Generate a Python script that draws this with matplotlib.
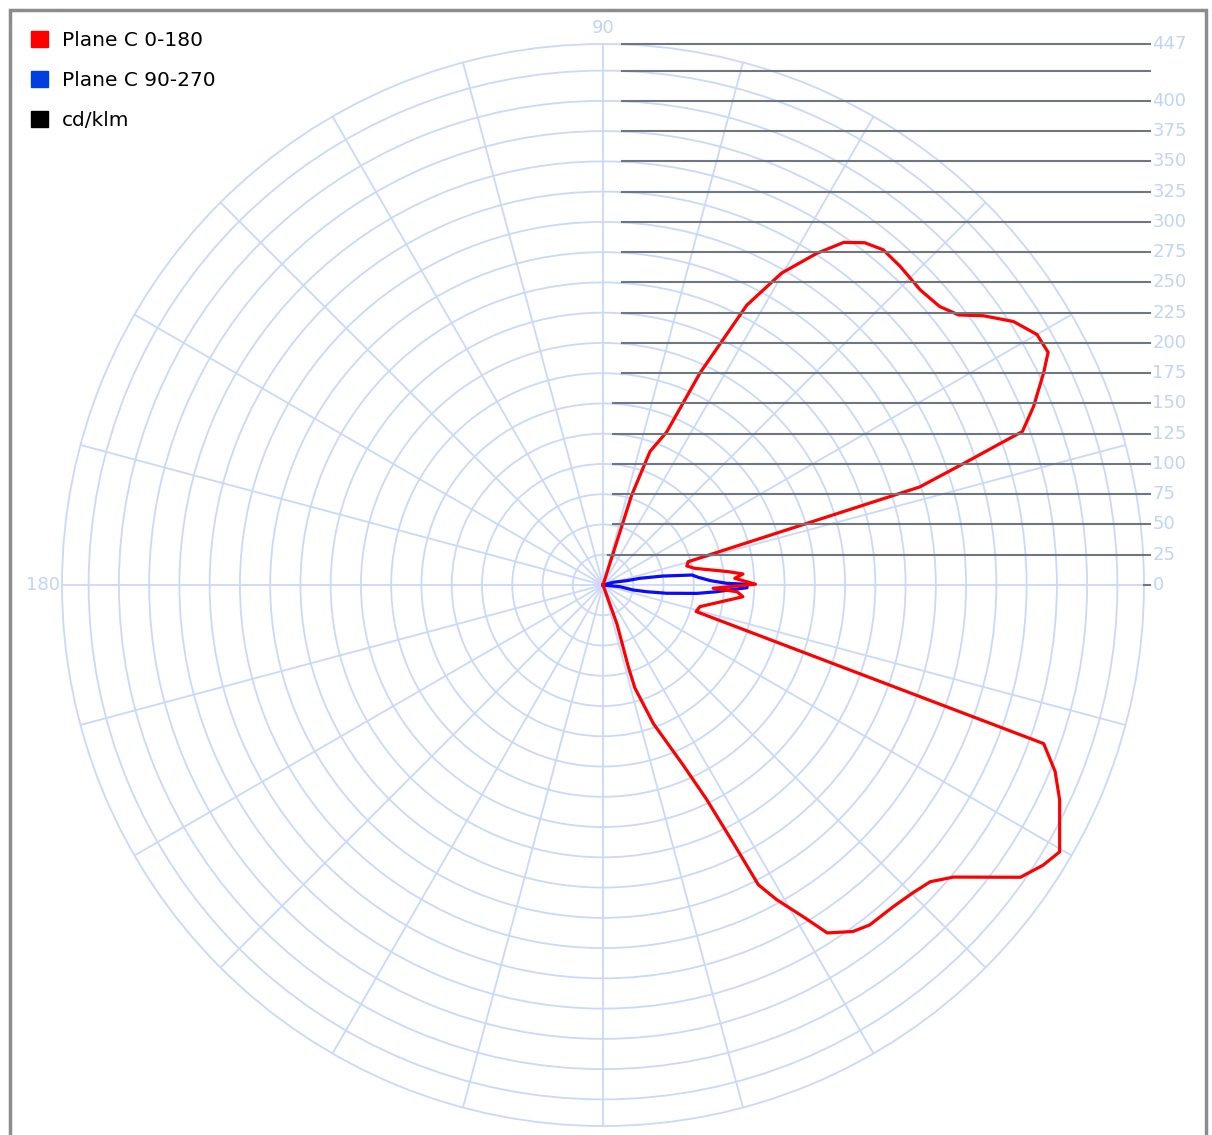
'''Polar photometric plot: cd/klm for two C planes'''
import matplotlib
matplotlib.use('Agg')
import matplotlib.pyplot as plt
import numpy as np
from matplotlib.patches import Patch, Rectangle

# Plane C 0-180 (degrees, cd/klm)
c0_angle = [73, 72.3, 70.6, 67.4, 65.4, 62.8, 60.2, 57.2, 54.9, 52.6, 50.1, 47.0,
            42.9, 39.6, 37.2, 35.3, 32.7, 30.0, 27.6, 25.7, 22.5, 20.1, 19.6, 18.7,
            17.2, 15.3, 12.8, 10.3, 6.1, 4.5, 2.9, 0.3, -1.7, -2.9, -4.8, -12.6,
            -15.9, -19.8, -22.4, -25.2, -30.3, -32.5, -35.0, -39.8, -42.2, -44.7,
            -47.9, -51.9, -54.2, -57.2, -58.9, -61.1, -62.6, -63.2, -64.2, -66.0,
            -70.0, -72.8, -72.8, -70.3, -70]
c0_value = [0, 78, 117, 137, 193, 260, 297, 326, 346, 356, 361, 360,
            358, 361, 369, 385, 403, 414, 415, 404, 385, 369, 348, 317,
            274, 73, 71, 77, 104, 116, 109, 126, 91, 111, 116, 82,
            80, 387, 404, 417, 437, 431, 421, 377, 365, 361,
            358, 357, 353, 342, 320, 297, 279, 239, 197, 163,
            122, 89, 71, 34, 0]

# Plane C 90-270
c90_angle = [15, 14.7, 10.3, 10.3, 8.5, 6.4, 4.6, 2.3, 0.8, 0.3, -1.1, -1.9,
             -3.4, -5.1, -7.4, -8.7, -9.4, -5.7, -5]
c90_value = [0, 9, 20, 31, 50, 74, 79, 89, 102, 119, 119, 108,
             94, 78, 53, 37, 25, 14, 0]

RMAX = 447
scale_levels = [25, 50, 75, 100, 125, 150, 175, 200, 225, 250, 275, 300, 325,
                350, 375, 400, 425, 447]
scale_labels = ['25', '50', '75', '100', '125', '150', '175', '200', '225', '250',
                '275', '300', '325', '350', '375', '400', '', '447']
legend_labels = ['Plane C 0-180', 'Plane C 90-270', 'cd/klm']

GRID = '#c9d8fb'
LABEL = '#c2d3f7'

fig = plt.figure(figsize=(12.12, 11.35), dpi=100)
pos = [62 / 1212, 9 / 1135, 1082 / 1212, 1082 / 1135]

ax = fig.add_axes(pos, projection='polar')
ax.set_rlim(0, RMAX)
ax.set_rticks(np.arange(25, RMAX, 25))
ax.set_yticklabels([])
ax.set_thetagrids(np.arange(0, 360, 15), [''] * 24)
ax.grid(True, color=GRID, lw=1.3)
ax.spines['polar'].set_color(GRID)
ax.spines['polar'].set_linewidth(1.3)

ax.plot(np.radians(c0_angle), c0_value, color='#ff0000', lw=2.3, zorder=5)
ax.plot(np.radians(c90_angle), c90_value, color='#0a0aff', lw=2.3, zorder=4)

# cartesian overlay for the scale lines and labels
ov = fig.add_axes(pos)
ov.set_xlim(-RMAX, RMAX)
ov.set_ylim(-RMAX, RMAX)
ov.set_aspect('equal')
ov.axis('off')
ov.patch.set_alpha(0)

for lev, lab in zip(scale_levels, scale_labels):
    x0 = 16 if lev >= 175 else (8 if lev > 25 else 4)
    ov.plot([x0, 452], [lev, lev], color='#6f7680', lw=1.5, clip_on=False, zorder=2)
    ov.text(454, lev, lab, color=LABEL, fontsize=13, va='center', ha='left')
ov.plot([447, 452], [0, 0], color='#6f7680', lw=1.5, clip_on=False)
ov.text(454, 0, '0', color=LABEL, fontsize=13, va='center', ha='left')

ov.text(0, 460, '90', color=LABEL, fontsize=13, ha='center', va='center')
ov.text(-463, 0, '180', color=LABEL, fontsize=13, ha='center', va='center')
ov.text(0, -461, '270', color=LABEL, fontsize=13, ha='center', va='center')

handles = [Patch(color='#ff0000'), Patch(color='#0040e0'), Patch(color='#000000')]
fig.legend(handles, legend_labels, loc='upper left',
           bbox_to_anchor=(31 / 1212, 1 - 31 / 1135), frameon=False,
           fontsize=14.5, handlelength=0.85, handleheight=0.85, handletextpad=0.7,
           labelspacing=1.05, borderpad=0, borderaxespad=0)

fig.patches.append(Rectangle((10 / 1212, -0.02), 1196 / 1212, 1.02 - 10 / 1135,
                             transform=fig.transFigure, fill=False,
                             ec='#8c8c8c', lw=2.5))

fig.savefig('out.png', dpi=100)
